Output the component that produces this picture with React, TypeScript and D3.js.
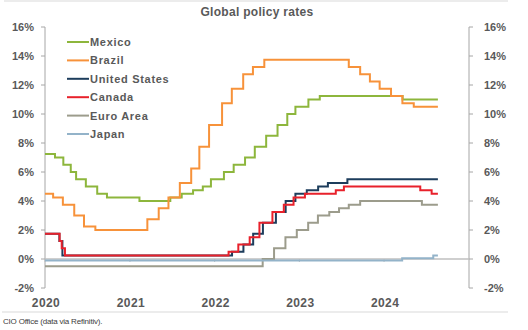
import React from "react";
import * as d3 from "d3";

const title = "Global policy rates";
const footer = "CIO Office (data via Refinitiv).";
const yTicks = [-2, 0, 2, 4, 6, 8, 10, 12, 14, 16];
const xTickYears = [2020, 2021, 2022, 2023, 2024];
const startDate = "2020-01-01";
const endDate = "2024-08-20";

const seriesNames = ["Mexico", "Brazil", "United States", "Canada", "Euro Area", "Japan"];
const seriesColors = ["#8DB63C", "#F7923A", "#1D3D5C", "#E8212B", "#9C9C8C", "#93B3C9"];

// [date of change, new rate]
const mexico: [string, number][] = [
  ["2020-01-01", 7.25], ["2020-02-13", 7.0], ["2020-03-20", 6.5], ["2020-04-21", 6.0],
  ["2020-05-14", 5.5], ["2020-06-25", 5.0], ["2020-08-13", 4.5], ["2020-09-24", 4.25],
  ["2021-02-11", 4.0], ["2021-06-24", 4.25], ["2021-08-12", 4.5], ["2021-09-30", 4.75],
  ["2021-11-11", 5.0], ["2021-12-16", 5.5], ["2022-02-10", 6.0], ["2022-03-24", 6.5],
  ["2022-05-12", 7.0], ["2022-06-23", 7.75], ["2022-08-11", 8.5], ["2022-09-29", 9.25],
  ["2022-11-10", 10.0], ["2022-12-15", 10.5], ["2023-02-09", 11.0], ["2023-03-30", 11.25],
  ["2024-03-21", 11.0],
];
const brazil: [string, number][] = [
  ["2020-01-01", 4.5], ["2020-02-05", 4.25], ["2020-03-18", 3.75], ["2020-05-06", 3.0],
  ["2020-06-17", 2.25], ["2020-08-05", 2.0], ["2021-03-17", 2.75], ["2021-05-05", 3.5],
  ["2021-06-16", 4.25], ["2021-08-04", 5.25], ["2021-09-22", 6.25], ["2021-10-27", 7.75],
  ["2021-12-08", 9.25], ["2022-02-02", 10.75], ["2022-03-16", 11.75], ["2022-05-04", 12.75],
  ["2022-06-15", 13.25], ["2022-08-03", 13.75], ["2023-08-02", 13.25], ["2023-09-20", 12.75],
  ["2023-11-01", 12.25], ["2023-12-13", 11.75], ["2024-01-31", 11.25], ["2024-03-20", 10.75],
  ["2024-05-08", 10.5],
];
const unitedStates: [string, number][] = [
  ["2020-01-01", 1.75], ["2020-03-03", 1.25], ["2020-03-16", 0.25], ["2022-03-17", 0.5],
  ["2022-05-05", 1.0], ["2022-06-16", 1.75], ["2022-07-28", 2.5], ["2022-09-22", 3.25],
  ["2022-11-03", 4.0], ["2022-12-15", 4.5], ["2023-02-02", 4.75], ["2023-03-23", 5.0],
  ["2023-05-04", 5.25], ["2023-07-27", 5.5],
];
const canada: [string, number][] = [
  ["2020-01-01", 1.75], ["2020-03-04", 1.25], ["2020-03-13", 0.75], ["2020-03-27", 0.25],
  ["2022-03-02", 0.5], ["2022-04-13", 1.0], ["2022-06-01", 1.5], ["2022-07-13", 2.5],
  ["2022-09-07", 3.25], ["2022-10-26", 3.75], ["2022-12-07", 4.25], ["2023-01-25", 4.5],
  ["2023-06-07", 4.75], ["2023-07-12", 5.0], ["2024-06-05", 4.75], ["2024-07-24", 4.5],
];
const euroArea: [string, number][] = [
  ["2020-01-01", -0.5], ["2022-07-27", 0.0], ["2022-09-14", 0.75], ["2022-11-02", 1.5],
  ["2022-12-21", 2.0], ["2023-02-08", 2.5], ["2023-03-22", 3.0], ["2023-05-10", 3.25],
  ["2023-06-21", 3.5], ["2023-08-02", 3.75], ["2023-09-20", 4.0], ["2024-06-12", 3.75],
];
const japan: [string, number][] = [
  ["2020-01-01", -0.1], ["2024-03-19", 0.05], ["2024-07-31", 0.25],
];

const seriesData = [mexico, brazil, unitedStates, canada, euroArea, japan];

const W = 528;
const H = 330;
const left = 45;
const right = 469;
const top = 27;
const bottom = 288;
const textGray = "#595959";
const axisGray = "#A6A6A6";
const font = "'Liberation Sans', Arial, sans-serif";

export default function App() {
  const x = d3
    .scaleTime()
    .domain([new Date(2020, 0, 1), new Date(2025, 0, 1)])
    .range([left, right]);
  const y = d3.scaleLinear().domain([-2, 16]).range([bottom, top]);
  const end = new Date(endDate + "T00:00:00");

  const line = d3
    .line<[Date, number]>()
    .x((d) => x(d[0]))
    .y((d) => y(d[1]))
    .curve(d3.curveStepAfter);

  const paths = seriesData.map((s) => {
    const pts: [Date, number][] = s.map(([d, v]) => [new Date(d + "T00:00:00"), v]);
    pts.push([end, s[s.length - 1][1]]);
    return line(pts) || "";
  });

  const legendX = 67;
  const legendY0 = 42;
  const legendDy = 18.4;

  return (
    <svg
      width={W}
      height={H}
      style={{ position: "absolute", left: 0, top: 0, background: "#fff" }}
      fontFamily={font}
    >
      <line x1={4} x2={508} y1={1} y2={1} stroke="#D9D9D9" strokeWidth={1} />
      <text x={257} y={16} textAnchor="middle" fontSize={12} fontWeight="bold" fill={textGray} letterSpacing={0.3}>
        {title}
      </text>

      {/* left axis */}
      <line x1={left} x2={left} y1={top} y2={bottom} stroke={axisGray} strokeWidth={1} />
      {yTicks.map((t) => (
        <g key={"l" + t}>
          <line x1={left - 4} x2={left} y1={y(t)} y2={y(t)} stroke={axisGray} />
          <text x={34} y={y(t) + 4} textAnchor="end" fontSize={11} fontWeight="bold" fill={textGray}>
            {t + "%"}
          </text>
        </g>
      ))}
      {/* right axis */}
      <line x1={right} x2={right} y1={top} y2={bottom} stroke={axisGray} strokeWidth={1} />
      {yTicks.map((t) => (
        <g key={"r" + t}>
          <line x1={right} x2={right + 4} y1={y(t)} y2={y(t)} stroke={axisGray} />
          <text x={484} y={y(t) + 4} textAnchor="start" fontSize={11} fontWeight="bold" fill={textGray}>
            {t + "%"}
          </text>
        </g>
      ))}

      {/* zero line with year ticks */}
      <line x1={left} x2={right} y1={y(0)} y2={y(0)} stroke="#BFBFBF" strokeWidth={1.5} />
      {xTickYears.map((yr) => (
        <g key={"x" + yr}>
          <line x1={x(new Date(yr, 0, 1))} x2={x(new Date(yr, 0, 1))} y1={y(0)} y2={y(0) + 3} stroke="#BFBFBF" />
          <text
            x={x(new Date(yr, 0, 1)) + 1}
            y={307}
            textAnchor="middle"
            fontSize={12}
            fontWeight="bold"
            fill={textGray}
            letterSpacing={0.4}
          >
            {yr}
          </text>
        </g>
      ))}

      {/* series */}
      {paths.map((p, i) => (
        <path key={seriesNames[i]} d={p} fill="none" stroke={seriesColors[i]} strokeWidth={2} strokeLinejoin="miter" />
      ))}

      {/* legend */}
      {seriesNames.map((n, i) => (
        <g key={"lg" + n}>
          <line
            x1={legendX}
            x2={legendX + 22}
            y1={legendY0 + i * legendDy}
            y2={legendY0 + i * legendDy}
            stroke={seriesColors[i]}
            strokeWidth={2}
          />
          <text
            x={legendX + 23}
            y={legendY0 + i * legendDy + 4}
            fontSize={11}
            fontWeight="bold"
            fill={textGray}
            letterSpacing={0.7}
          >
            {n}
          </text>
        </g>
      ))}

      <line x1={2} x2={508} y1={312} y2={312} stroke="#D9D9D9" strokeWidth={1} />
      <text x={3} y={324} fontSize={8} fill="#404040" letterSpacing={-0.2}>
        {footer}
      </text>
    </svg>
  );
}
